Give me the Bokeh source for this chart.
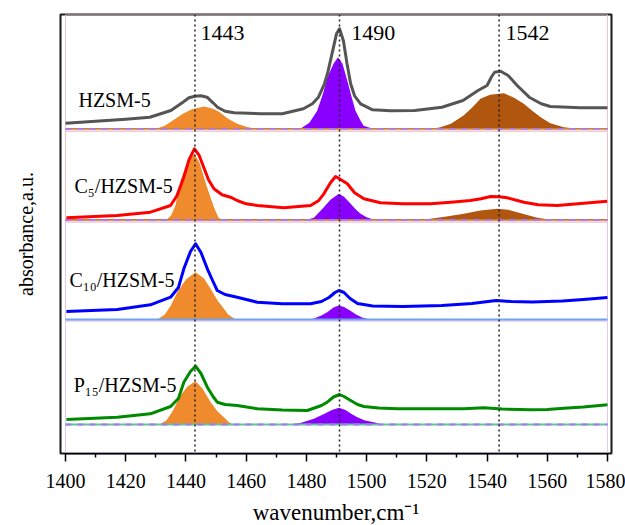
from bokeh.plotting import figure
from bokeh.models import Span, FixedTicker, ColumnDataSource
from bokeh.core.properties import value
from bokeh.embed import file_html
from bokeh.resources import INLINE

# ---------------- data ----------------
x_ticks = [1400, 1420, 1440, 1460, 1480, 1500, 1520, 1540, 1560, 1580]
x_minor = [1410, 1430, 1450, 1470, 1490, 1510, 1530, 1550, 1570]
peak_positions = [1443, 1491, 1544]
peak_labels = ["1443", "1490", "1542"]
peak_label_x = [1444.8, 1494.9, 1546.1]
sample_names = ["HZSM-5", "C\u2085/HZSM-5", "C\u2081\u2080/HZSM-5", "P\u2081\u2085/HZSM-5"]
sample_label_x = [1404.3, 1403.0, 1401.3, 1402.7]
sample_label_dy = [29.3, 33.8, 39.8, 39.5]

# HZSM-5 spectrum
hz_wn = [1400, 1410, 1420, 1428, 1435, 1439, 1441, 1443, 1445, 1447, 1449, 1450.5, 1453, 1456,
         1465, 1472, 1479, 1482, 1484, 1486, 1487, 1488.5, 1490, 1491, 1492.3, 1493.5, 1494.7,
         1496, 1498, 1502, 1508, 1516, 1525, 1532, 1537, 1540, 1541.5, 1542.5, 1544.5, 1547,
         1550, 1554, 1558, 1561, 1571, 1580]
hz_abs = [5.6, 7.5, 9.5, 11.6, 18.3, 26.6, 31, 32.6, 33, 31.6, 26, 21.6, 17.5, 16,
          15, 15, 20, 25, 31.6, 45, 55, 75, 95, 100, 88, 65, 45,
          33, 25, 19, 18, 18.3, 21.6, 28.3, 38.3, 43.3, 52, 56.6, 57.6, 53.3,
          43.3, 31.6, 25, 22.3, 21, 21]
hz_f1_wn = [1430, 1433, 1436, 1439, 1442, 1446, 1449, 1451, 1454, 1457, 1460, 1463]
hz_f1 = [0, 3, 9, 15, 19.5, 22.3, 20, 17, 10, 5, 2, 0]
hz_f2_wn = [1478, 1481, 1483.6, 1485.5, 1487, 1489, 1490.5, 1492, 1493.6, 1495, 1496.3, 1498, 1499, 1501, 1503.5]
hz_f2 = [0, 6, 18, 35, 51.6, 65, 71.6, 65, 48, 32, 18, 8, 3, 1, 0]
hz_f3_wn = [1522, 1524.5, 1528, 1532.2, 1535, 1537.8, 1541, 1545.6, 1549, 1552.2, 1555, 1557.8, 1561, 1565.5, 1570]
hz_f3 = [0, 1.6, 5, 13.3, 21, 30, 34, 35.6, 31, 25, 18, 11.6, 5.5, 1.6, 0]

# C5/HZSM-5 spectrum
c5_wn = [1400.3, 1417.2, 1428.2, 1434.9, 1437, 1439.3, 1441, 1442.8, 1444.3, 1445.9, 1447.5,
         1449.3, 1452, 1454.8, 1457, 1460, 1463.7, 1472.5, 1481.4, 1484, 1485.8, 1488, 1489.7,
         1491.5, 1493.6, 1496, 1499.1, 1504.6, 1512, 1521.2, 1528, 1534.5, 1538, 1541.2, 1544,
         1546.7, 1552.2, 1557, 1563.3, 1572.1, 1579.9]
c5_abs = [2, 4.3, 7.6, 14.3, 24, 42.6, 60, 71, 65, 52.6, 40,
          31, 25, 22.6, 19.3, 16, 14.3, 12, 14.3, 19, 26, 37, 43.3,
          40, 36, 27, 21, 17, 16, 16, 17.5, 19.3, 21, 23.3, 23,
          22, 17.6, 15, 14.3, 16.6, 18.6]
c5_f1_wn = [1433.5, 1435, 1436.5, 1438.2, 1440.5, 1442.8, 1444.5, 1447, 1449.3, 1450.8, 1452]
c5_f1 = [0, 4, 14, 39, 58, 66, 57, 32.6, 12.6, 2, 0]
c5_f2_wn = [1480, 1482.5, 1485.8, 1488, 1490.8, 1492.5, 1494.7, 1496.5, 1498, 1500, 1501.5, 1503]
c5_f2 = [0, 2, 12.6, 20, 26, 23, 16, 10, 6, 2.5, 1, 0]
c5_f3_wn = [1518, 1521.2, 1526, 1532.3, 1537.8, 1543.4, 1547, 1550, 1553, 1556.7, 1560, 1563]
c5_f3 = [0, 1, 3, 6, 9.3, 11, 10, 7.6, 5, 2, 0.5, 0]

# C10/HZSM-5 spectrum
c10_wn = [1400.3, 1417.2, 1428.2, 1434.9, 1437.5, 1439.3, 1441.5, 1443.2, 1445, 1447.1, 1449,
          1450.4, 1453, 1457, 1463.7, 1472, 1481.4, 1485, 1487.5, 1489.5, 1490.8, 1492.5, 1494.5,
          1497, 1502, 1512, 1525, 1535, 1543, 1548, 1555, 1565, 1572, 1580]
c10_abs = [8, 10, 14.7, 22.3, 32, 50.7, 68, 75.7, 67, 50.7, 38,
           29, 25, 22.3, 17.3, 15.7, 15.7, 18, 22, 27, 29, 27, 21,
           16, 13.5, 13, 14, 16, 19, 18, 17.5, 18.5, 20, 22]
c10_f1_wn = [1430.5, 1433, 1435, 1437.1, 1440, 1443.2, 1446, 1448.2, 1450.5, 1452.6, 1454, 1456, 1457]
c10_f1 = [0, 5, 14, 27.3, 40, 47.3, 41, 30.7, 19, 10.7, 5, 1, 0]
c10_f2_wn = [1481, 1482.5, 1485, 1486.9, 1489, 1490.8, 1492.5, 1494.5, 1496.5, 1498.5, 1500.5, 1502]
c10_f2 = [0, 1, 4, 7.3, 12, 14, 12.5, 9, 5, 2, 0.5, 0]

# P15/HZSM-5 spectrum
p15_wn = [1400.3, 1417.2, 1428.2, 1434.9, 1437.5, 1439.3, 1441.5, 1443.2, 1445, 1447.1, 1449,
          1450.4, 1453, 1457, 1463.7, 1472, 1480.3, 1485, 1486.9, 1489, 1491, 1492.5, 1494.7,
          1497, 1499.1, 1504, 1510.2, 1520, 1532.3, 1538.9, 1545, 1554.4, 1560, 1565.5, 1572, 1580]
p15_abs = [5, 7.3, 10.7, 18, 26, 42.3, 53, 58.3, 51, 37.3, 28,
           22.3, 20, 19, 15.7, 14.5, 14, 19, 22.3, 27.5, 30, 28, 24,
           20, 18, 16.5, 15.7, 15.7, 15.7, 16.7, 15.5, 14.7, 15, 16.3, 17.5, 19.7]
p15_f1_wn = [1431, 1433.5, 1435.5, 1438.2, 1440.5, 1443.2, 1445.5, 1448.2, 1450.5, 1452.6, 1454.2, 1455.6]
p15_f1 = [0, 4, 13, 29, 38, 43.3, 36, 22.3, 13, 7.3, 2.5, 0]
p15_f2_wn = [1474.5, 1478, 1482.5, 1485.5, 1488.5, 1490.8, 1493, 1495, 1496.9, 1499.5, 1502.4, 1504, 1505]
p15_f2 = [0, 1.5, 5.7, 10, 14.5, 16.7, 14.5, 10.5, 7.3, 4, 2.3, 1, 0]

# ---------------- layout / style ----------------
ORANGE = "#ef8a2d"
PURPLE = "#8a00ff"
BROWN = "#b0560e"
SERIF = "Liberation Serif"

panel_base = [324.7, 233.7, 134.0, 29.0]
panel_box = [(322.3, 439.0), (231.5, 322.3), (132.5, 231.5), (1.0, 132.5)]
box_colors = ["#efc6d2", "#f0c4c4", "#e6c6e6", "#e0ccf2"]
base_colors = ["#d0803c", "#c8783a", "#70a4ee", "#62c49a"]
base_dashed = [True, True, False, True]
line_colors = ["#555555", "#ff0000", "#0000ff", "#008a00"]

spectra = [
    (hz_wn, hz_abs, [(hz_f1_wn, hz_f1, ORANGE), (hz_f2_wn, hz_f2, PURPLE), (hz_f3_wn, hz_f3, BROWN)]),
    (c5_wn, c5_abs, [(c5_f1_wn, c5_f1, ORANGE), (c5_f2_wn, c5_f2, PURPLE), (c5_f3_wn, c5_f3, BROWN)]),
    (c10_wn, c10_abs, [(c10_f1_wn, c10_f1, ORANGE), (c10_f2_wn, c10_f2, PURPLE)]),
    (p15_wn, p15_abs, [(p15_f1_wn, p15_f1, ORANGE), (p15_f2_wn, p15_f2, PURPLE)]),
]

p = figure(x_range=(1398.34, 1581.33), y_range=(0, 439),
           frame_width=551, frame_height=439,
           min_border_left=60, min_border_right=14, min_border_top=14, min_border_bottom=72,
           output_backend="svg", toolbar_location=None)
p.background_fill_color = "white"
p.border_fill_color = "white"
p.outline_line_color = "#1a1a1a"
p.outline_line_width = 2
p.xgrid.visible = False
p.ygrid.visible = False

xa = p.xaxis[0]
xa.ticker = FixedTicker(ticks=x_ticks, minor_ticks=x_minor)
xa.bounds = (x_ticks[0], x_ticks[-1])
xa.axis_line_color = "black"
xa.axis_line_width = 1.5
xa.major_tick_line_color = "black"
xa.major_tick_line_width = 1.5
xa.major_tick_out = 8
xa.major_tick_in = 0
xa.minor_tick_line_color = "black"
xa.minor_tick_line_width = 1.5
xa.minor_tick_out = 4
xa.minor_tick_in = 0
xa.major_label_text_font = SERIF
xa.major_label_text_font_size = "20px"
xa.major_label_text_color = "black"
xa.major_label_standoff = 12
xa.axis_label = "wavenumber,cm\u207b\u00b9"
xa.axis_label_text_font = SERIF
xa.axis_label_text_font_size = "23px"
xa.axis_label_text_font_style = "normal"
xa.axis_label_text_color = "black"
xa.axis_label_standoff = 9

ya = p.yaxis[0]
ya.ticker = FixedTicker(ticks=[])
ya.bounds = (panel_base[3] + 12, 439)
ya.axis_line_color = None
ya.major_tick_line_color = None
ya.minor_tick_line_color = None
ya.major_label_standoff = 0
ya.axis_label = "absorbance,a.u."
ya.axis_label_text_font = SERIF
ya.axis_label_text_font_size = "20px"
ya.axis_label_text_font_style = "normal"
ya.axis_label_text_color = "black"
ya.axis_label_standoff = 24

# panel boxes
for (b, t), c in zip(panel_box, box_colors):
    p.quad(left=x_ticks[0], right=x_ticks[-1], bottom=b, top=t,
           fill_color=None, line_color=c, line_width=1)

# fitted peaks, baselines, spectra
for base, (wn, ab, fills), bc, dashed, lc in zip(panel_base, spectra, base_colors, base_dashed, line_colors):
    for fwn, fab, col in fills:
        p.varea(x=fwn, y1=[base] * len(fwn), y2=[base + v for v in fab],
                fill_color=col, fill_alpha=1)
    p.line(x=[x_ticks[0], x_ticks[-1]], y=[base, base], line_color=bc, line_width=1.8)
    if dashed:
        p.line(x=[x_ticks[0], x_ticks[-1]], y=[base, base], line_color="#a878ee",
               line_width=1.8, line_dash="6 6")
    p.line(x=wn, y=[base + v for v in ab], line_color=lc, line_width=3, line_join="round")

# sample names
name_src = ColumnDataSource(dict(
    x=sample_label_x,
    y=[b + d for b, d in zip(panel_base, sample_label_dy)],
    t=sample_names))
p.text(x="x", y="y", text="t", source=name_src, text_font=value(SERIF),
       text_font_size="20px", text_color="black", text_align="left",
       text_baseline="middle")

# reference wavenumber lines and labels
for pos in peak_positions:
    p.add_layout(Span(location=pos, dimension="height", line_color="#222222",
                      line_width=1.5, line_dash="2 3"))
pk_src = ColumnDataSource(dict(x=peak_label_x, y=[420.8] * len(peak_label_x), t=peak_labels))
p.text(x="x", y="y", text="t", source=pk_src, text_font=value(SERIF),
       text_font_size="22px", text_color="black", text_align="left",
       text_baseline="middle")

open("out.html", "w").write(file_html(p, INLINE))
